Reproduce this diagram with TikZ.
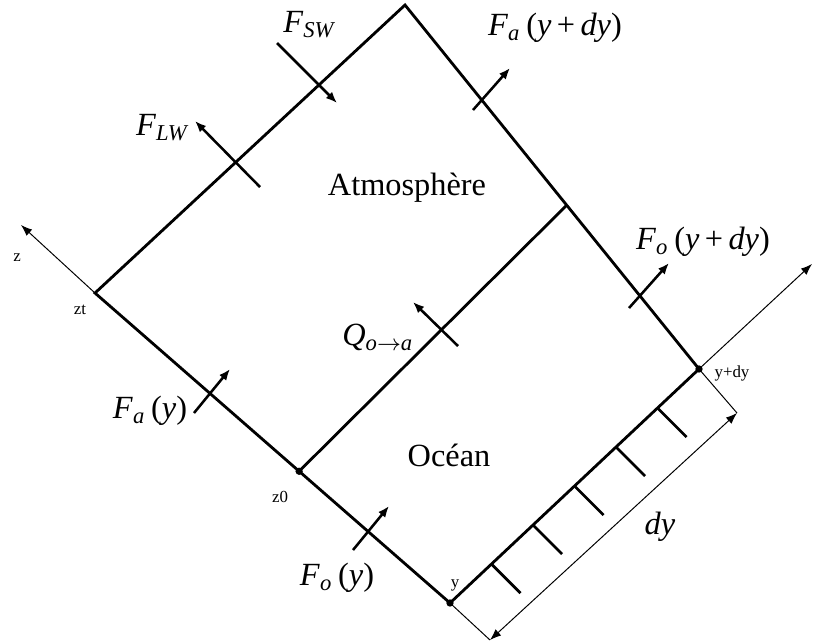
\documentclass[tikz,border=0pt]{standalone}
\usepackage{fontspec}
\setmainfont{Liberation Serif}
\usetikzlibrary{arrows.meta}
\usetikzlibrary{calc}

\newcommand{\fl}[2]{\textit{#1}\textsubscript{\textit{#2}}}

\begin{document}
\begin{tikzpicture}[x=0.0125cm, y=-0.0125cm,
        edge/.style = {line width=1pt},
        flow/.style = {line width=0.9pt, -{Latex[length=4pt,width=3.2pt]}},
        axis/.style = {line width=0.35pt, -{Latex[length=4pt,width=3pt]}},
        dimline/.style = {line width=0.35pt, {Latex[length=4pt,width=3pt]}-{Latex[length=4pt,width=3pt]}},
        lab/.style = {font=\fontsize{11.5}{13}\selectfont},
        tag/.style = {font=\fontsize{6}{7}\selectfont}]
    \useasboundingbox (0,0) rectangle (816,642);

    % corners of the box
    \coordinate (top) at (405,5);
    \coordinate (zt) at (95,293);
    \coordinate (y) at (450,603);
    \coordinate (ydy) at (699,369);
    \coordinate (z0) at ($(zt)!0.575!(y)$);
    \coordinate (ri) at ($(top)!0.55!(ydy)$);

    \draw[edge] (zt) -- (top) -- (ydy) -- (y) -- cycle;
    \draw[edge] (z0) -- (ri);
    \fill (z0) circle (1.3pt);
    \fill (y) circle (1.3pt);
    \fill (ydy) circle (1.3pt);

    % axes
    \coordinate (zend) at (21,225);
    \coordinate (yend) at (812,264);
    \draw[axis] (zt) -- (zend);
    \draw[axis] (ydy) -- (yend);
    \node[tag] (zlab) at (17,258) {z};
    \node[tag, anchor=west] (ylab) at (811,292) {y};
    \node[tag] (ztlab) at (80,310) {zt};
    \node[tag] (z0lab) at (280,497) {z0};
    \node[tag] (ylabel) at (455,585) {y};
    \node[tag] (ydylab) at (732,373) {y+dy};

    % ground ticks
    \foreach \k in {1,...,5}
        \draw[edge] ($(y)!\k/6!(ydy)$) -- ++(29,29);

    % width dy
    \coordinate (da) at (490,640);
    \coordinate (db) at (737,413);
    \draw[line width=0.35pt] (y) -- (da);
    \draw[line width=0.35pt] (ydy) -- (db);
    \draw[dimline] (da) -- (db);
    \node[lab] (dylab) at (660,527) {\textit{dy}};

    % fluxes
    \draw[flow] (277,43) -- (337,103);
    \draw[flow] (260,187) -- (195,121);
    \draw[flow] (473,110) -- (510,68);
    \draw[flow] (629,308) -- (669,263);
    \draw[flow] (458,346) -- (413,302);
    \draw[flow] (194,413) -- (230,369);
    \draw[flow] (353,550) -- (389,506);

    \node[lab] (fsw) at (310,25) {\fl{F}{SW}};
    \node[lab] (flw) at (163,128) {\fl{F}{LW}};
    \node[lab] (fady) at (555,28) {\fl{F}{a}\,(\textit{y}\,+\,\textit{dy})};
    \node[lab] (fody) at (703,242) {\fl{F}{o}\,(\textit{y}\,+\,\textit{dy})};
    \node[lab] (qoa) at (378,337) {\textit{Q}\textsubscript{\textit{o}$\rightarrow$\textit{a}}};
    \node[lab] (fay) at (150,411) {\fl{F}{a}\,(\textit{y})};
    \node[lab] (foy) at (337,578) {\fl{F}{o}\,(\textit{y})};

    \node[lab] (atm) at (407,188) {Atmosphère};
    \node[lab] (oce) at (449,455) {Océan};
\end{tikzpicture}
\end{document}
